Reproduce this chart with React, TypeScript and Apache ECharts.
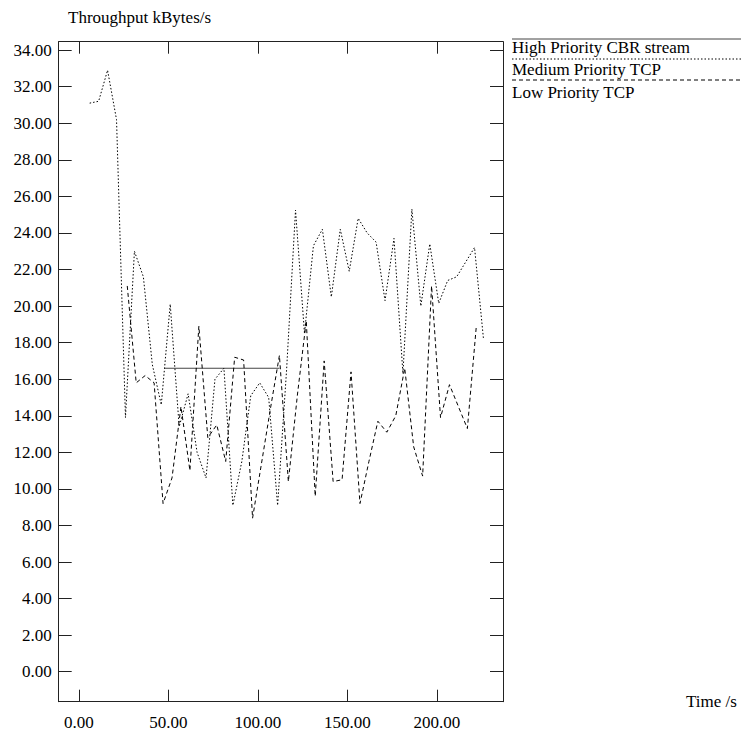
import React, { useEffect, useRef } from "react";
import * as echarts from "echarts";

const xTicks = [0, 50, 100, 150, 200];
const yTicks = [0, 2, 4, 6, 8, 10, 12, 14, 16, 18, 20, 22, 24, 26, 28, 30, 32, 34];

const cbrTimes = [48, 112];
const cbrValues = [16.6, 16.6];

const mediumTimes = [
  6, 11, 16, 21, 26, 31, 36, 41, 46, 51, 56, 61, 66, 71, 76, 81, 86, 91, 96, 101, 106, 111, 116,
  121, 126, 131, 136, 141, 146, 151, 156, 161, 166, 171, 176, 181, 186, 191, 196, 201, 206, 211,
  216, 221, 226,
];
const mediumValues = [
  31.1, 31.2, 32.9, 30.2, 13.9, 23.0, 21.6, 16.8, 14.6, 20.1, 13.4, 15.2, 12.0, 10.6, 16.0, 16.6,
  9.1, 11.5, 15.1, 15.8, 15.0, 9.1, 16.5, 25.25, 18.5, 23.3, 24.2, 20.5, 24.2, 21.9, 24.8, 24.0,
  23.5, 20.3, 23.7, 16.3, 25.3, 20.0, 23.4, 20.15, 21.4, 21.6, 22.4, 23.2, 18.2,
];

const lowTimes = [
  27, 32, 37, 42, 47, 52, 57, 62, 67, 72, 77, 82, 87, 92, 97, 102, 107, 112, 117, 122, 127, 132,
  137, 142, 147, 152, 157, 162, 167, 172, 177, 182, 187, 192, 197, 202, 207, 212, 217, 222,
];
const lowValues = [
  21.1, 15.8, 16.2, 15.8, 9.2, 10.6, 14.5, 11.0, 18.9, 12.8, 13.5, 11.5, 17.2, 17.05, 8.4, 11.4,
  14.4, 17.3, 10.4, 15.1, 19.2, 9.6, 17.0, 10.4, 10.5, 16.4, 9.2, 11.5, 13.7, 13.1, 14.0, 16.6,
  12.3, 10.7, 21.1, 13.9, 15.7, 14.5, 13.3, 18.9,
];

const legendLabels = ["High Priority CBR stream", "Medium Priority TCP", "Low Priority TCP"];
const yAxisTitle = "Throughput kBytes/s";
const xAxisTitle = "Time /s";

const FONT = "'Liberation Serif', 'Times New Roman', serif";
const X_MIN = -11.3;
const X_MAX = 236.9;
const Y_MIN = -1.64;
const Y_MAX = 34.46;

const DOTTED = [1.5, 2];
const DASHED = [4, 3];

export default function App() {
  const ref = useRef<HTMLDivElement>(null);

  useEffect(() => {
    const chart = echarts.init(ref.current!, null, { renderer: "svg" });
    const axisLineStyle = { color: "#222", width: 1 };
    const zip = (xs: number[], ys: number[]) => xs.map((x, i) => [x, ys[i]]);

    const legendStyles = [
      { stroke: "#444", lineDash: null as any },
      { stroke: "#000", lineDash: DOTTED },
      { stroke: "#000", lineDash: DASHED },
    ];
    const legendLineY = [39, 59, 80];
    const legendTextY = [47, 69, 92];

    const graphics: any[] = [
      {
        type: "text",
        left: 68,
        top: 9,
        style: { text: yAxisTitle, font: `17px ${FONT}`, fill: "#000" },
      },
      {
        type: "text",
        left: 686,
        top: 693,
        style: { text: xAxisTitle, font: `17px ${FONT}`, fill: "#000" },
      },
    ];
    legendLabels.forEach((label, i) => {
      graphics.push({
        type: "line",
        shape: { x1: 512, y1: legendLineY[i], x2: 741, y2: legendLineY[i] },
        style: { stroke: legendStyles[i].stroke, lineWidth: 1, lineDash: legendStyles[i].lineDash },
      });
      graphics.push({
        type: "text",
        x: 512,
        y: legendTextY[i],
        style: {
          text: label,
          font: `17px ${FONT}`,
          fill: "#000",
          verticalAlign: "middle",
        },
      });
    });

    chart.setOption({
      animation: false,
      backgroundColor: "#fff",
      grid: { left: 58.7, top: 41.7, right: 238, bottom: 33.3, containLabel: false },
      xAxis: [
        {
          type: "value",
          position: "bottom",
          min: X_MIN,
          max: X_MAX,
          axisLine: { show: true, onZero: false, lineStyle: axisLineStyle },
          axisTick: { show: true, inside: true, length: 12, customValues: xTicks, lineStyle: axisLineStyle },
          axisLabel: {
            customValues: xTicks,
            formatter: (v: number) => v.toFixed(2),
            fontFamily: FONT,
            fontSize: 17,
            color: "#000",
            margin: 12,
          },
          splitLine: { show: false },
        },
        {
          type: "value",
          position: "top",
          min: X_MIN,
          max: X_MAX,
          axisLine: { show: true, onZero: false, lineStyle: axisLineStyle },
          axisTick: { show: true, inside: true, length: 12, customValues: xTicks, lineStyle: axisLineStyle },
          axisLabel: { show: false },
          splitLine: { show: false },
        },
      ],
      yAxis: [
        {
          type: "value",
          position: "left",
          min: Y_MIN,
          max: Y_MAX,
          axisLine: { show: true, onZero: false, lineStyle: axisLineStyle },
          axisTick: { show: true, inside: true, length: 13, customValues: yTicks, lineStyle: axisLineStyle },
          axisLabel: {
            customValues: yTicks,
            formatter: (v: number) => v.toFixed(2),
            fontFamily: FONT,
            fontSize: 17,
            color: "#000",
            margin: 7,
          },
          splitLine: { show: false },
        },
        {
          type: "value",
          position: "right",
          min: Y_MIN,
          max: Y_MAX,
          axisLine: { show: true, onZero: false, lineStyle: axisLineStyle },
          axisTick: { show: true, inside: true, length: 13, customValues: yTicks, lineStyle: axisLineStyle },
          axisLabel: { show: false },
          splitLine: { show: false },
        },
      ],
      series: [
        {
          name: legendLabels[0],
          type: "line",
          xAxisIndex: 0,
          yAxisIndex: 0,
          data: zip(cbrTimes, cbrValues),
          showSymbol: false,
          symbol: "none",
          lineStyle: { color: "#444", width: 1.2, type: "solid" },
        },
        {
          name: legendLabels[1],
          type: "line",
          xAxisIndex: 0,
          yAxisIndex: 0,
          data: zip(mediumTimes, mediumValues),
          showSymbol: false,
          symbol: "none",
          lineStyle: { color: "#000", width: 1, type: DOTTED },
        },
        {
          name: legendLabels[2],
          type: "line",
          xAxisIndex: 0,
          yAxisIndex: 0,
          data: zip(lowTimes, lowValues),
          showSymbol: false,
          symbol: "none",
          lineStyle: { color: "#000", width: 1, type: DASHED },
        },
      ],
      graphic: graphics,
    });
    return () => chart.dispose();
  }, []);

  return (
    <div
      ref={ref}
      style={{ position: "fixed", left: 0, top: 0, width: 741, height: 735, background: "#fff" }}
    />
  );
}
